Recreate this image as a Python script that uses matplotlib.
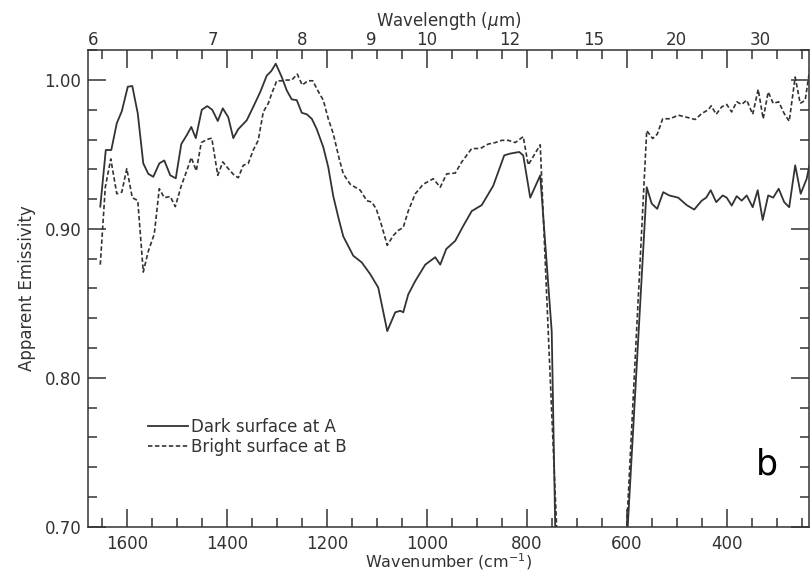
import numpy as np
import matplotlib
matplotlib.use('Agg')
import matplotlib.pyplot as plt

#------------- Data -------------------------------------#
dark_wn = [1653, 1642, 1631, 1620, 1610, 1598, 1589, 1578, 1567, 1557,
           1547, 1535, 1525, 1513, 1502, 1491, 1480, 1471, 1462, 1450,
           1439, 1429, 1418, 1408, 1397, 1387, 1377, 1360, 1347, 1333,
           1320, 1311, 1302, 1290, 1280, 1270, 1260, 1250, 1240, 1230,
           1220, 1207, 1197, 1187, 1177, 1167, 1147, 1130, 1113, 1097,
           1079, 1063, 1053, 1047, 1037, 1023, 1003, 983, 973, 961,
           943, 927, 910, 890, 867, 845, 833, 815, 807, 793,
           773, 750, 740, 605, 560, 550, 539, 527, 515, 497,
           480, 465, 450, 441, 432, 421, 408, 400, 390, 380,
           370, 360, 348, 338, 328, 317, 307, 296, 285, 275,
           263, 252, 240, 230]
dark_em = [0.915, 0.953, 0.953, 0.971, 0.979, 0.9955, 0.996, 0.9775, 0.944, 0.937,
           0.935, 0.944, 0.946, 0.936, 0.934, 0.957, 0.963, 0.9685, 0.961, 0.980,
           0.9825, 0.980, 0.9725, 0.981, 0.975, 0.961, 0.967, 0.973, 0.982, 0.992,
           1.003, 1.006, 1.011, 1.002, 0.993, 0.987, 0.9865, 0.978, 0.977, 0.974,
           0.967, 0.955, 0.9415, 0.922, 0.908, 0.895, 0.882, 0.8775, 0.8696, 0.8606,
           0.8314, 0.844, 0.845, 0.844, 0.856, 0.865, 0.876, 0.881, 0.876, 0.8865,
           0.892, 0.902, 0.912, 0.916, 0.929, 0.9494, 0.9506, 0.9517, 0.9494, 0.921,
           0.936, 0.831, 0.644, 0.658, 0.928, 0.917, 0.9135, 0.9247, 0.9225, 0.921,
           0.916, 0.913, 0.919, 0.921, 0.926, 0.918, 0.9225, 0.921, 0.9157, 0.922,
           0.919, 0.9225, 0.9146, 0.926, 0.906, 0.9225, 0.921, 0.927, 0.918, 0.9146,
           0.9427, 0.9236, 0.9337, 0.950]

bright_wn = [1653, 1643, 1632, 1620, 1610, 1600, 1589, 1578, 1567, 1557,
             1545, 1535, 1525, 1513, 1503, 1491, 1480, 1471, 1461, 1451,
             1440, 1430, 1418, 1408, 1397, 1385, 1377, 1367, 1357, 1347,
             1337, 1327, 1317, 1310, 1300, 1290, 1280, 1270, 1259, 1249,
             1238, 1228, 1218, 1207, 1197, 1187, 1175, 1167, 1153, 1133,
             1120, 1110, 1101, 1090, 1079, 1067, 1057, 1047, 1037, 1023,
             1007, 987, 973, 960, 943, 930, 910, 893, 877, 863,
             850, 837, 823, 807, 797, 773, 730, 605, 560, 548,
             539, 528, 513, 497, 480, 463, 450, 437, 431, 421,
             410, 400, 390, 380, 370, 360, 348, 337, 327, 317,
             307, 296, 285, 275, 263, 253, 243, 233, 225]
bright_em = [0.876, 0.928, 0.947, 0.9236, 0.9247, 0.9405, 0.921, 0.919, 0.871, 0.885,
             0.8966, 0.927, 0.921, 0.9218, 0.915, 0.929, 0.939, 0.948, 0.939, 0.958,
             0.960, 0.961, 0.936, 0.945, 0.9405, 0.936, 0.9344, 0.9427, 0.944, 0.953,
             0.9595, 0.9786, 0.9843, 0.991, 0.9995, 0.9995, 1.000, 1.000, 1.004, 0.9966,
             0.9995, 0.9995, 0.993, 0.9865, 0.974, 0.964, 0.947, 0.937, 0.930, 0.926,
             0.919, 0.918, 0.9135, 0.902, 0.889, 0.8955, 0.899, 0.901, 0.912, 0.9236,
             0.930, 0.9337, 0.928, 0.937, 0.9375, 0.945, 0.954, 0.954, 0.957, 0.958,
             0.9595, 0.9595, 0.958, 0.962, 0.943, 0.9565, 0.62, 0.667, 0.966, 0.9607,
             0.9636, 0.974, 0.974, 0.9764, 0.975, 0.9735, 0.9775, 0.980, 0.9827, 0.977,
             0.982, 0.9836, 0.9786, 0.9854, 0.9836, 0.9865, 0.977, 0.9937, 0.974, 0.992,
             0.9843, 0.9854, 0.9775, 0.9723, 1.002, 0.9843, 0.9865, 1.009, 1.03]

wl_ticks = [6, 7, 8, 9, 10, 12, 15, 20, 30]

#------------- Plot -----------------#
ink = '#333333'
plt.rcParams['font.family'] = 'DejaVu Sans'
plt.rcParams['lines.scale_dashes'] = False

fig = plt.figure(figsize=(8.1, 5.73), dpi=100)
ax = fig.add_axes([0.109, 0.0808, 0.890, 0.832])

ax.plot(dark_wn, dark_em, color=ink, lw=1.3, label='Dark surface at A')
ax.plot(bright_wn, bright_em, color=ink, lw=1.2, ls=(0, (3.2, 1.8)),
        label='Bright surface at B')

ax.set_xlim(1677, 235)
ax.set_ylim(0.70, 1.0202)

ax.set_xticks([1600, 1400, 1200, 1000, 800, 600, 400])
ax.set_xticks(np.arange(1650, 230, -50), minor=True)
ax.set_yticks([0.70, 0.80, 0.90, 1.00])
ax.set_yticks(np.arange(0.70, 1.021, 0.02), minor=True)
ax.set_yticklabels(['0.70', '0.80', '0.90', '1.00'])

ax.tick_params(which='both', direction='in', top=True, right=True,
               colors=ink, labelsize=12)
ax.tick_params(which='major', length=13, width=1.1)
ax.tick_params(which='minor', length=6.5, width=1.1)
ax.tick_params(axis='x', which='major', pad=6)
ax.tick_params(axis='y', which='major', pad=5)
for sp in ax.spines.values():
    sp.set_color(ink)
    sp.set_linewidth(1.1)

ax.set_xlabel('Wavenumber (cm$^{-1}$)', fontsize=11.5, color=ink, labelpad=-1)
ax.set_ylabel('Apparent Emissivity', fontsize=12, color=ink, labelpad=6)

# top axis: wavelength labels, tick marks come from the main axis
sec = ax.secondary_xaxis('top', functions=(lambda x: 1e4 / x, lambda x: 1e4 / x))
sec.set_xticks(wl_ticks)
sec.set_xticklabels([str(w) for w in wl_ticks])
sec.tick_params(length=0, pad=1, labelsize=12, colors=ink)
sec.spines['top'].set_visible(False)
sec.set_xlabel('Wavelength ($\\mu$m)', fontsize=12, color=ink, labelpad=3)

leg = ax.legend(loc='upper left', bbox_to_anchor=(0.083, 0.228), frameon=False,
                fontsize=12, handlelength=2.4, handletextpad=0.15,
                labelspacing=0.1, borderpad=0, borderaxespad=0)
for t in leg.get_texts():
    t.set_color(ink)

ax.text(0.942, 0.13, 'b', transform=ax.transAxes, fontsize=25, color='black',
        ha='center', va='center')

plt.savefig('out.png', dpi=100)
